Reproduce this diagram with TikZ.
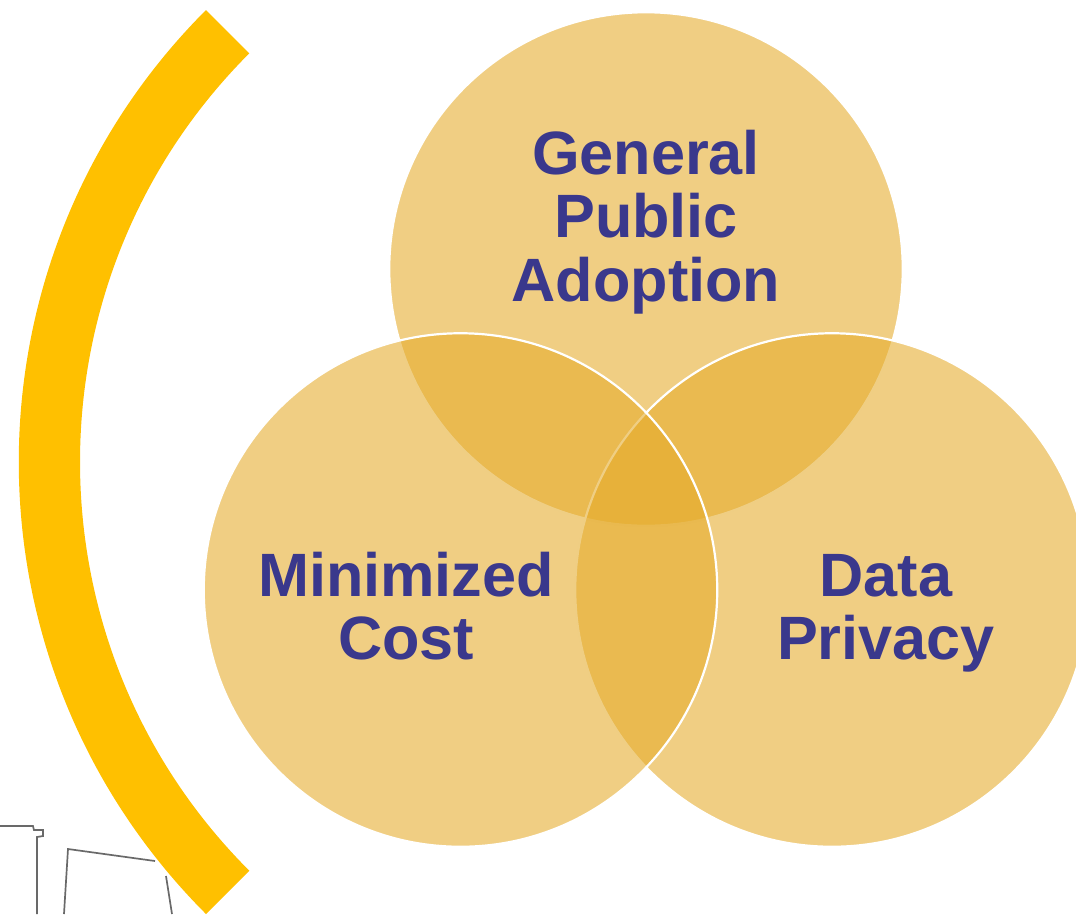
\documentclass[tikz,border=0pt]{standalone}
\usepackage{fontspec}
\setmainfont{Liberation Sans}
\definecolor{vennfill}{RGB}{229,171,42}
\definecolor{arcgold}{RGB}{255,192,0}
\definecolor{labelblue}{RGB}{58,56,140}
\definecolor{sketchgrey}{RGB}{105,105,105}
\tikzset{
  venn/.style={circle,minimum size=513.5pt,inner sep=0pt,outer sep=0pt,fill=vennfill,fill opacity=.58,draw=white,draw opacity=1,line width=2.2pt},
  lbl/.style={anchor=base,inner sep=0pt,text=labelblue,font=\fontsize{61.2}{64}\selectfont\bfseries},
  sketch/.style={draw=sketchgrey,line width=1.7pt,line join=miter}
}
\begin{document}
\begin{tikzpicture}[x=1pt,y=-1pt]
\useasboundingbox (0,0) rectangle (1076,914);
% sketch fragments
\draw[sketch] (0,826) -- (33,826) -- (34,830) -- (43,830) -- (43,836) -- (37,837) -- (37,914);
\draw[sketch] (64,914) -- (68,849) -- (155,861);
\draw[sketch] (166,876) -- (172,914);
% gold arc
\fill[arcgold] (206,10) -- (249.3,53.3)
  arc[start angle=225,end angle=135,radius=578]
  -- (206,914)
  arc[start angle=135,end angle=225,radius=639.2] -- cycle;
% venn circles
\node[venn] (top) at (646,269) {};
\node[venn] (right) at (832,590) {};
\node[venn] (left) at (460.5,590) {};
% labels
\node[lbl] (g1) at (646,174) {General};
\node[lbl] (g2) at (646,237) {Public};
\node[lbl] (g3) at (646,301) {Adoption};
\node[lbl] (m1) at (406,596) {Minimized};
\node[lbl] (m2) at (406,659) {Cost};
\node[lbl] (d1) at (886,596) {Data};
\node[lbl] (d2) at (886,659) {Privacy};
\end{tikzpicture}
\end{document}
